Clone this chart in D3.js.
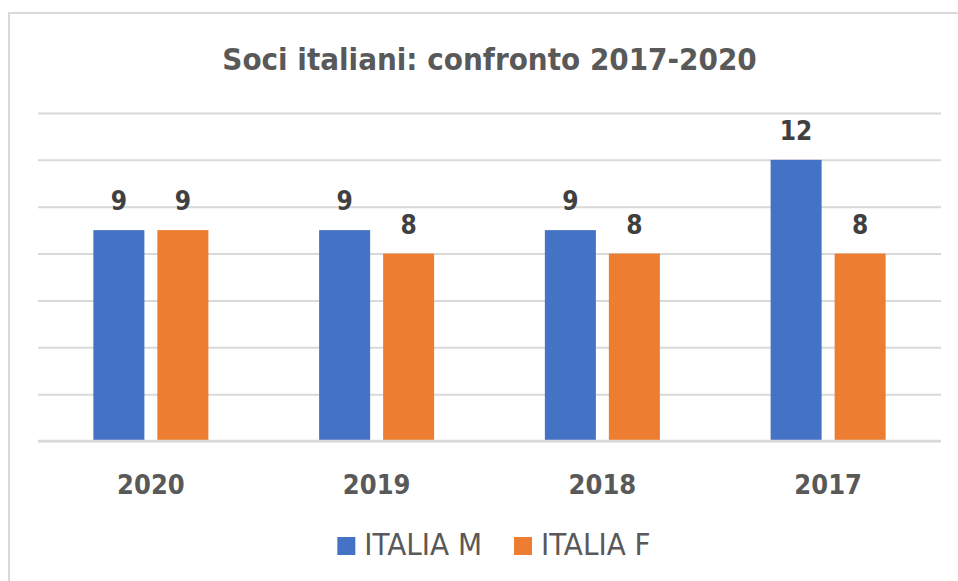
<!DOCTYPE html>
<html>
<head>
<meta charset="utf-8">
<script src="https://cdn.jsdelivr.net/npm/d3@7"></script>
<style>
  body { margin: 0; background: #fff; }
  text { font-family: "DejaVu Sans Condensed", "DejaVu Sans", sans-serif; }
</style>
</head>
<body>
<div id="chart"></div>
<script>
// data
var categories = ["2020", "2019", "2018", "2017"];
var series = ["ITALIA M", "ITALIA F"];
var italiaM = [9, 9, 9, 12];
var italiaF = [9, 8, 8, 8];
var yTicks = [0, 2, 4, 6, 8, 10, 12, 14];

var colors = {"ITALIA M": "#4472C4", "ITALIA F": "#ED7D31"};

var W = 958, H = 581;
var margin = {top: 113, right: 17, bottom: 140, left: 38},
    width = W - margin.left - margin.right,
    height = H - margin.top - margin.bottom;

var svg = d3.select("#chart").append("svg")
    .attr("width", W)
    .attr("height", H);

// chart border (clipped by the window at right and bottom)
svg.append("rect")
    .attr("x", 9).attr("y", 13)
    .attr("width", W).attr("height", H)
    .attr("fill", "none")
    .attr("stroke", "#d9d9d9")
    .attr("stroke-width", 2);

// title
svg.append("text")
    .attr("x", margin.left + width / 2)
    .attr("y", 70)
    .attr("text-anchor", "middle")
    .attr("fill", "#595959")
    .style("font-size", "31px")
    .style("font-weight", "bold")
    .text("Soci italiani: confronto 2017-2020");

var g = svg.append("g")
    .attr("transform", "translate(" + margin.left + "," + margin.top + ")");

var x0 = d3.scaleBand()
    .domain(categories)
    .range([0, width]);

var x1 = d3.scaleBand()
    .domain(series)
    .range([0, x0.bandwidth()])
    .paddingInner(0.203)
    .paddingOuter(0.865);

var y = d3.scaleLinear()
    .domain([0, 14])
    .range([height, 0]);

// gridlines
g.append("g")
    .call(d3.axisLeft(y).tickValues(yTicks).tickSize(-width).tickFormat(""))
    .call(function(a) {
      a.select(".domain").remove();
      a.selectAll(".tick line").attr("stroke", "#d9d9d9").attr("stroke-width", 2);
    });

var rows = categories.map(function(c, i) {
  return {cat: c, values: [
    {key: "ITALIA M", value: italiaM[i]},
    {key: "ITALIA F", value: italiaF[i]}
  ]};
});

var groups = g.selectAll(".grp")
  .data(rows)
  .enter().append("g")
    .attr("class", "grp")
    .attr("transform", function(d) { return "translate(" + x0(d.cat) + ",0)"; });

groups.selectAll("rect")
  .data(function(d) { return d.values; })
  .enter().append("rect")
    .attr("x", function(d) { return x1(d.key); })
    .attr("y", function(d) { return y(d.value); })
    .attr("width", x1.bandwidth())
    .attr("height", function(d) { return height - y(d.value); })
    .attr("fill", function(d) { return colors[d.key]; });

// data labels
groups.selectAll(".lbl")
  .data(function(d) { return d.values; })
  .enter().append("text")
    .attr("class", "lbl")
    .attr("x", function(d) { return x1(d.key) + x1.bandwidth() / 2; })
    .attr("y", function(d) { return y(d.value) - 20; })
    .attr("text-anchor", "middle")
    .attr("fill", "#404040")
    .style("font-size", "26px")
    .style("font-weight", "bold")
    .text(function(d) { return d.value; });

// baseline
g.append("line")
    .attr("x1", 0).attr("x2", width)
    .attr("y1", height).attr("y2", height)
    .attr("stroke", "#d9d9d9")
    .attr("stroke-width", 2.5);

// x axis labels
var xAxis = g.append("g")
    .attr("transform", "translate(0," + height + ")")
    .call(d3.axisBottom(x0).tickSize(0).tickPadding(0));
xAxis.select(".domain").remove();
xAxis.selectAll("text")
    .attr("dy", null)
    .attr("y", 53)
    .attr("fill", "#595959")
    .style("font-family", "'DejaVu Sans Condensed', 'DejaVu Sans', sans-serif")
    .style("font-size", "27px")
    .style("font-weight", "bold");

// legend
var legend = svg.append("g");
var lx = 0;
series.forEach(function(s, i) {
  var item = legend.append("g").attr("transform", "translate(" + lx + ",0)");
  item.append("rect")
      .attr("x", 0).attr("y", -18)
      .attr("width", 18).attr("height", 18)
      .attr("fill", colors[s]);
  var t = item.append("text")
      .attr("x", 27).attr("y", 0)
      .attr("fill", "#595959")
      .style("font-size", "31px")
      .text(s);
  lx += 27 + t.node().getComputedTextLength() + 32;
});
var lw = legend.node().getBBox().width;
legend.attr("transform", "translate(" + (494 - lw / 2) + ",555)");
</script>
</body>
</html>
